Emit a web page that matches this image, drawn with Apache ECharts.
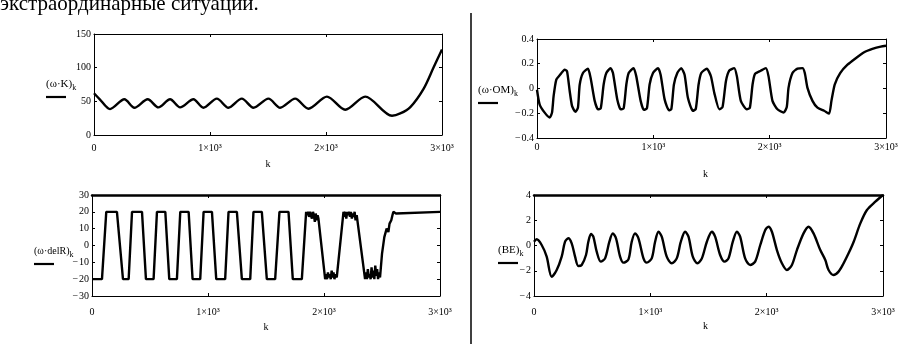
<!DOCTYPE html>
<html>
<head>
<meta charset="utf-8">
<title>ω·K, ω·OM, ω·delR, BE</title>
<script src="https://cdn.jsdelivr.net/npm/echarts@6.0.0/dist/echarts.min.js"></script>
<style>
  html, body { margin: 0; padding: 0; background: #fff; }
  #chart { width: 908px; height: 344px; }
</style>
</head>
<body>
<div id="chart"></div>
<script>
// (ω·K)k, top left
const kK = [0, 50, 138, 262, 348, 463, 555, 656, 742, 857, 943, 1059, 1159, 1274, 1375, 1504, 1605, 1734, 1849, 2008, 2166, 2338, 2569, 2640, 2727, 2841, 2928, 3000];
const valK = [62, 53, 38.5, 53, 40.5, 53, 41, 53, 41, 53, 40.5, 54, 40.5, 54, 40.5, 54, 40.5, 54, 39, 57, 37.5, 57, 28.6, 32, 41.5, 68.6, 100.6, 127];

// (ω·OM)k, top right
const kOM = [0, 23, 66, 109, 129, 143, 166, 195, 238, 258, 281, 301, 330, 352, 367, 395, 438, 461, 496, 524, 548, 573, 596, 633, 653, 690, 719, 745, 768, 788, 830, 853, 891, 919, 945, 968, 997, 1040, 1063, 1097, 1134, 1155, 1177, 1206, 1240, 1269, 1297, 1340, 1365, 1389, 1412, 1460, 1495, 1524, 1567, 1595, 1624, 1652, 1695, 1718, 1752, 1804, 1830, 1853, 1873, 1924, 1967, 1990, 2024, 2067, 2119, 2147, 2162, 2196, 2239, 2282, 2302, 2325, 2368, 2411, 2468, 2511, 2531, 2559, 2606, 2669, 2740, 2812, 2883, 2955, 3000];
const valOM = [-0.01, -0.13, -0.195, -0.235, -0.195, -0.06, 0.072, 0.107, 0.152, 0.14, -0.02, -0.14, -0.189, -0.155, 0.03, 0.125, 0.16, 0.085, -0.1, -0.168, -0.16, 0.032, 0.125, 0.165, 0.125, -0.088, -0.168, -0.16, 0.032, 0.125, 0.165, 0.1, -0.1, -0.173, -0.16, 0.032, 0.125, 0.165, 0.11, -0.088, -0.176, -0.165, 0.032, 0.125, 0.165, 0.11, -0.075, -0.18, -0.165, 0.032, 0.125, 0.16, 0.099, -0.035, -0.168, -0.15, 0.059, 0.144, 0.165, 0.1, -0.1, -0.168, -0.155, 0.032, 0.117, 0.144, 0.165, 0.1, -0.1, -0.168, -0.195, -0.15, 0.005, 0.125, 0.16, 0.165, 0.125, 0.005, -0.1, -0.155, -0.18, -0.203, -0.1, 0.032, 0.125, 0.192, 0.245, 0.293, 0.32, 0.339, 0.345];

// (ω·delR)k, bottom left
const kR = [0, 86, 123, 215, 267, 316, 345, 431, 465, 531, 560, 632, 666, 732, 761, 833, 867, 933, 962, 1034, 1071, 1148, 1177, 1249, 1292, 1364, 1392, 1464, 1507, 1579, 1616, 1694, 1731, 1809,
  1846, 1855, 1863, 1871, 1880, 1888, 1896, 1905, 1913, 1921, 1929, 1937, 1945, 1952,
  2010, 2018, 2026, 2034, 2042, 2050, 2058, 2066, 2074, 2082, 2090, 2098, 2110,
  2168, 2176, 2184, 2192, 2200, 2208, 2216, 2224, 2232, 2240, 2248, 2256, 2264, 2272, 2282,
  2354, 2362, 2370, 2378, 2386, 2394, 2402, 2410, 2418, 2426, 2434, 2442, 2450, 2458, 2466, 2474, 2483,
  2500, 2520, 2540, 2555, 2565, 2580, 2590, 2598, 2620, 2630, 3000];
const valR = [-20, -20, 20, 20, -20, -20, 20, 20, -20, -20, 20, 20, -20, -20, 20, 20, -20, -20, 20, 20, -20, -20, 20, 20, -20, -20, 20, 20, -20, -20, 20, 20, -20, -20,
  20, 18, 20, 17, 20, 19, 16, 20, 18, 14, 19, 15, 18, 16,
  -20, -17, -20, -16, -19, -17, -20, -15, -19, -16, -20, -17, -19,
  20, 17, 20, 16, 20, 18, 20, 17, 20, 16, 19, 17, 20, 15, 18,
  -20, -16, -20, -14, -19, -17, -20, -13, -19, -15, -20, -12, -18, -14, -20, -16, -19,
  -5, 5, 10, 8, 13, 15, 18, 20, 19, 20, 20];

// (BE)k, bottom right
const kBE = [0, 23, 66, 109, 152, 195, 238, 267, 295, 324, 353, 381, 410, 447, 467, 490, 510, 539, 574, 611, 648, 677, 705, 740, 769, 812, 840, 869, 898, 941, 969, 1012, 1041, 1070, 1098, 1141, 1184, 1227, 1262, 1299, 1328, 1365, 1405, 1443, 1486, 1529, 1557, 1600, 1638, 1672, 1709, 1744, 1772, 1815, 1858, 1901, 1945, 1988, 2016, 2045, 2088, 2131, 2174, 2217, 2260, 2317, 2360, 2403, 2461, 2504, 2532, 2575, 2618, 2661, 2704, 2748, 2805, 2862, 2934, 3000];
const valBE = [0.3, 0.49, 0.04, -0.88, -2.47, -1.94, -0.88, 0.3, 0.57, 0.17, -0.88, -1.62, -1.54, -0.75, 0.3, 0.91, 0.7, -0.49, -1.28, -1.02, 0.3, 0.96, 0.57, -0.88, -1.36, -1.1, 0.3, 0.96, 0.57, -1.02, -1.36, -1.02, 0.3, 1.09, 0.7, -0.88, -1.41, -1.02, 0.3, 1.09, 0.7, -0.88, -1.41, -1.02, 0.3, 1.09, 0.7, -0.75, -1.28, -1.02, 0.3, 1.09, 0.7, -1.02, -1.54, -1.28, 0.04, 1.23, 1.49, 1.09, -0.36, -1.41, -1.94, -1.54, -0.36, 0.96, 1.49, 0.96, -0.36, -1.15, -1.94, -2.34, -2.07, -1.41, -0.62, 0.3, 1.75, 2.81, 3.47, 4.0];

// axis ranges: [min, max, interval]
const rangeK = [0, 150, 50];
const rangeOM = [-0.4, 0.4, 0.2];
const rangeR = [-30, 30, 10];
const rangeBE = [-4, 4, 2];
const rangeX = [0, 3000, 1000];

const pairs = (xs, ys) => xs.map((x, i) => [x, ys[i]]);
const serif = '"Liberation Serif", "DejaVu Serif", serif';

const kLabel = (v) => (v === 0 ? "0" : v / 1000 + "×10³");
// minus with a hair space, like the Mathcad labels
const yLabel = (v) => (v < 0 ? "−\u200a" + Math.abs(+v.toFixed(2)) : String(+v.toFixed(2)));

const panels = [
  { grid: { left: 94, top: 34, width: 348, height: 101 }, range: rangeK, data: pairs(kK, valK), smooth: 0.3, topWidth: 1, labelMargin: 8, nameGap: 24, namePad: 0 },
  { grid: { left: 537, top: 39, width: 349, height: 99 }, range: rangeOM, data: pairs(kOM, valOM), smooth: 0.2, topWidth: 1, labelMargin: 4, nameGap: 31, namePad: 12 },
  { grid: { left: 92, top: 195, width: 348, height: 101 }, range: rangeR, data: pairs(kR, valR), smooth: false, topWidth: 2.5, labelMargin: 11, nameGap: 26, namePad: 0 },
  { grid: { left: 534, top: 195, width: 349, height: 101 }, range: rangeBE, data: pairs(kBE, valBE), smooth: 0.3, topWidth: 2.5, labelMargin: 11, nameGap: 25, namePad: 6 },
];

const axisText = { color: "#000", fontFamily: serif, fontSize: 10 };
const tick = { show: true, inside: true, length: 3, lineStyle: { color: "#000" } };

const grid = [];
const xAxis = [];
const yAxis = [];
const series = [];

panels.forEach((p, i) => {
  grid.push(p.grid);
  xAxis.push({
    type: "value", gridIndex: i, position: "bottom",
    min: rangeX[0], max: rangeX[1], interval: rangeX[2],
    name: "k", nameLocation: "middle", nameGap: p.nameGap,
    nameTextStyle: { ...axisText, padding: [0, p.namePad, 0, 0] },
    axisLine: { onZero: false, lineStyle: { color: "#000", width: 1 } },
    axisTick: tick,
    axisLabel: { ...axisText, margin: p.labelMargin, formatter: kLabel },
    splitLine: { show: false },
  });
  xAxis.push({
    type: "value", gridIndex: i, position: "top",
    min: rangeX[0], max: rangeX[1], interval: rangeX[2],
    axisLine: { onZero: false, lineStyle: { color: "#000", width: p.topWidth } },
    axisTick: tick, axisLabel: { show: false }, splitLine: { show: false },
  });
  yAxis.push({
    type: "value", gridIndex: i, position: "left",
    min: p.range[0], max: p.range[1], interval: p.range[2],
    axisLine: { show: true, onZero: false, lineStyle: { color: "#000", width: 1 } },
    axisTick: tick,
    axisLabel: { ...axisText, margin: 3, formatter: yLabel },
    splitLine: { show: false },
  });
  yAxis.push({
    type: "value", gridIndex: i, position: "right",
    min: p.range[0], max: p.range[1], interval: p.range[2],
    axisLine: { show: true, onZero: false, lineStyle: { color: "#000", width: 1 } },
    axisTick: tick, axisLabel: { show: false }, splitLine: { show: false },
  });
  series.push({
    type: "line", xAxisIndex: 2 * i, yAxisIndex: 2 * i,
    data: p.data, showSymbol: false, smooth: p.smooth, silent: true,
    lineStyle: { color: "#000", width: 2.4 },
  });
});

// legend-like labels, as Mathcad puts them left of each plot
const legendLabel = (x, y, main, size) => [
  {
    type: "text", x: x, y: y,
    style: {
      text: "{m|" + main + "}{s|k}",
      verticalAlign: "middle",
      rich: {
        m: { font: size + "px " + serif, fill: "#000", lineHeight: 16, verticalAlign: "middle" },
        s: { font: "8px " + serif, fill: "#000", lineHeight: 8, verticalAlign: "bottom" },
      },
    },
  },
  { type: "line", shape: { x1: x, y1: y + 13, x2: x + 20, y2: y + 13 }, style: { stroke: "#000", lineWidth: 2.2 } },
];

const chart = echarts.init(document.getElementById("chart"));
chart.setOption({
  animation: false,
  backgroundColor: "#fff",
  grid: grid,
  xAxis: xAxis,
  yAxis: yAxis,
  series: series,
  graphic: [
    { type: "text", x: 0, y: 4, style: { text: "экстраординарные ситуации.", font: "21px " + serif, fill: "#000", verticalAlign: "middle" } },
    { type: "line", shape: { x1: 471, y1: 13, x2: 471, y2: 344 }, style: { stroke: "#000", lineWidth: 1.5 } },
    ...legendLabel(46, 84, "(ω·K)", 11),
    ...legendLabel(478, 90, "(ω·OM)", 11),
    ...legendLabel(34, 251, "(ω·delR)", 10),
    ...legendLabel(498, 250, "(BE)", 11),
  ],
});
</script>
</body>
</html>
